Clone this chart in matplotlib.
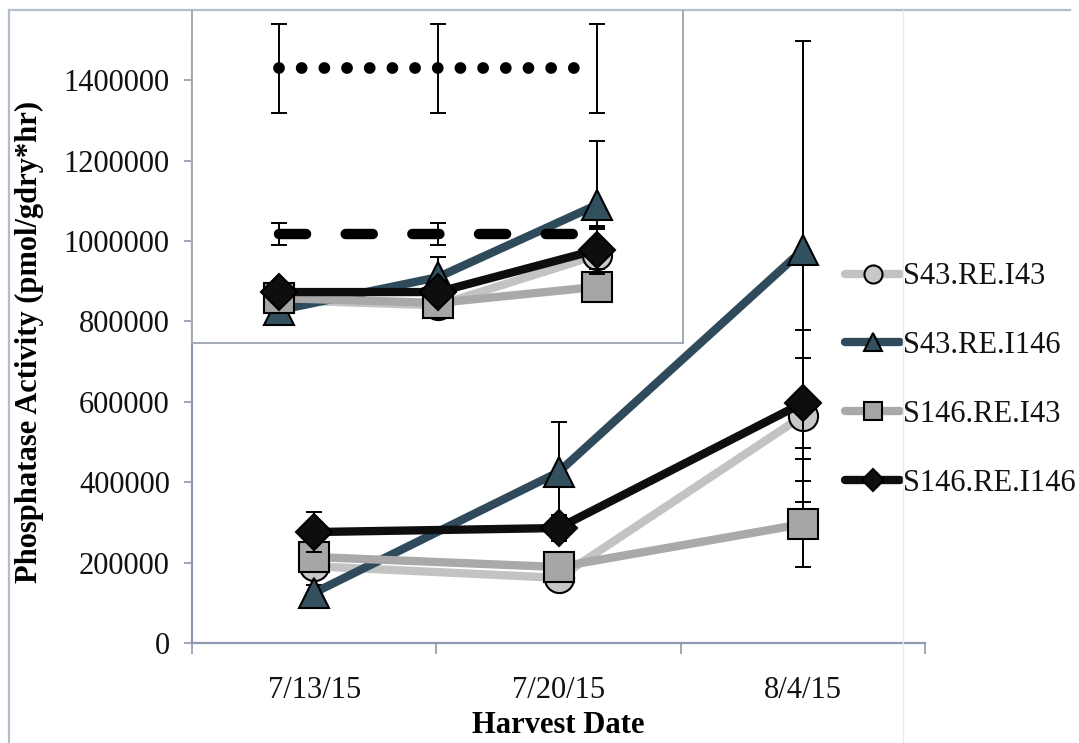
import matplotlib.pyplot as plt
from matplotlib.lines import Line2D

plt.rcParams['font.family'] = ['Liberation Serif', 'DejaVu Serif']

dates = ['7/13/15', '7/20/15', '8/4/15']
series = ['S43.RE.I43', 'S43.RE.I146', 'S146.RE.I43', 'S146.RE.I146']

# main panel: means and error bars per harvest date
main_vals = {
    'S43.RE.I43':   [191000, 162000, 565000],
    'S43.RE.I146':  [125000, 425000, 978000],
    'S146.RE.I43':  [214000, 189000, 296000],
    'S146.RE.I146': [276000, 286000, 597000],
}
main_err = {
    'S43.RE.I43':   [15000, 15000, 214000],
    'S43.RE.I146':  [20000, 125000, 520000],
    'S146.RE.I43':  [20000, 35000, 106000],
    'S146.RE.I146': [50000, 32000, 112000],
}

# small panel in the upper left
inset_vals = {
    'S43.RE.I43':   [853000, 840000, 965000],
    'S43.RE.I146':  [828000, 910000, 1090000],
    'S146.RE.I43':  [858000, 846000, 886000],
    'S146.RE.I146': [873000, 873000, 978000],
}
inset_err = {
    'S43.RE.I43':   [10000, 10000, 70000],
    'S43.RE.I146':  [10000, 50000, 160000],
    'S146.RE.I43':  [10000, 10000, 10000],
    'S146.RE.I146': [10000, 10000, 60000],
}
dotted_vals = [1430000, 1430000, 1430000]
dotted_err = [111000, 111000, 111000]
dashed_vals = [1017000, 1017000, 1017000]
dashed_err = [27000, 27000, 12000]

styles = {
    'S43.RE.I43':   dict(color='#c3c3c3', marker='o', mfc='#c8c8c8', ms=21),
    'S43.RE.I146':  dict(color='#2f4b5b', marker='^', mfc='#33505f', ms=22),
    'S146.RE.I43':  dict(color='#a9a9a9', marker='s', mfc='#a6a6a6', ms=21),
    'S146.RE.I146': dict(color='#0e0e0e', marker='D', mfc='#0e0e0e', ms=18),
}

W, H = 1079, 743
fig = plt.figure(figsize=(W / 100, H / 100), dpi=100)

# outer frame
frame_c = '#b4bccb'
fig.add_artist(Line2D([9 / W, 1070 / W], [1 - 10 / H, 1 - 10 / H], color=frame_c, lw=1.6))
fig.add_artist(Line2D([9 / W, 9 / W], [1 - 10 / H, 0], color=frame_c, lw=1.6))
fig.add_artist(Line2D([903 / W, 903 / W], [1 - 10 / H, 0], color='#e6ebf2', lw=1.0))

ml, mr, mb, mt = 192 / W, 925 / W, 1 - 643 / H, 1 - 40 / H
ax = fig.add_axes([ml, mb, mr - ml, mt - mb])
ymax = 1500000
ax.set_xlim(-0.5, 2.5)
ax.set_ylim(0, ymax)

x = [0, 1, 2]
for i, s in enumerate(series):
    st = styles[s]
    ax.errorbar(x, main_vals[s], yerr=main_err[s], fmt='none', ecolor='black',
                elinewidth=1.4, capsize=5.5, capthick=1.4, zorder=2 + i)
    ax.plot(x, main_vals[s], color=st['color'], lw=6, marker=st['marker'],
            ms=st['ms'], mfc=st['mfc'], mec='black', mew=1.5,
            solid_joinstyle='round', solid_capstyle='round', label=s, zorder=2 + i)

spine_c = '#8e9aae'
for side in ['top', 'right']:
    ax.spines[side].set_visible(False)
for side in ['left', 'bottom']:
    ax.spines[side].set_color(spine_c)
    ax.spines[side].set_linewidth(1.6)

ax.set_yticks(range(0, 1400001, 200000))
ax.set_yticklabels([str(v) for v in range(0, 1400001, 200000)])
ax.tick_params(axis='y', direction='out', length=6, width=1.2, color=spine_c,
               labelsize=22, pad=10, labelcolor='#111111')
ax.set_xticks([-0.5, 0.5, 1.5, 2.5])
ax.set_xticklabels([])
ax.tick_params(axis='x', which='major', direction='out', length=8, width=1.2, color=spine_c)
ax.set_xticks(x, minor=True)
ax.set_xticklabels(dates, minor=True)
ax.tick_params(axis='x', which='minor', length=0, labelsize=22, pad=24, labelcolor='#111111')

ax.set_xlabel('Harvest Date', fontsize=22, fontweight='bold', labelpad=4)
ax.set_ylabel('Phosphatase Activity (pmol/gdry*hr)', fontsize=22, fontweight='bold', labelpad=14)

leg = ax.legend(loc='center left', bbox_to_anchor=(845 / W, 1 - 380 / H),
                bbox_transform=fig.transFigure, frameon=False, fontsize=22,
                handlelength=1.8, handletextpad=0.1, labelspacing=1.3,
                borderpad=0, borderaxespad=0, markerscale=0.62)
for t in leg.get_texts():
    t.set_color('#111111')

# upper-left panel, drawn on the same vertical value scale as the main axes
il, ir, ib, it = 192 / W, 683 / W, 1 - 343 / H, 1 - 10 / H
iax = fig.add_axes([il, ib, ir - il, it - ib])
iax.set_ylim(ymax * (ib - mb) / (mt - mb), ymax * (it - mb) / (mt - mb))
iax.set_xlim(-0.547, 2.541)
iax.set_facecolor('white')
iax.set_xticks([])
iax.set_yticks([])
for sp in iax.spines.values():
    sp.set_color('#a3a9b3')
    sp.set_linewidth(1.4)

for i, s in enumerate(series):
    st = styles[s]
    iax.errorbar(x, inset_vals[s], yerr=inset_err[s], fmt='none', ecolor='black',
                 elinewidth=1.4, capsize=5.5, capthick=1.4, zorder=2 + i)
    iax.plot(x, inset_vals[s], color=st['color'], lw=6, marker=st['marker'],
             ms=st['ms'], mfc=st['mfc'], mec='black', mew=1.5,
             solid_joinstyle='round', solid_capstyle='round', zorder=2 + i)

iax.errorbar(x, dashed_vals, yerr=dashed_err, fmt='none', ecolor='black',
             elinewidth=1.4, capsize=5.5, capthick=1.4, zorder=7)
iax.plot(x, dashed_vals, color='black', lw=7.5, linestyle=(0, (2.6, 3.8)),
         dash_capstyle='round', zorder=7)
iax.errorbar(x, dotted_vals, yerr=dotted_err, fmt='none', ecolor='black',
             elinewidth=1.4, capsize=5.5, capthick=1.4, zorder=7)
iax.plot(x[:2] + [1.93], dotted_vals, color='black', lw=8.5, linestyle=(0, (0.001, 1.92)),
         dash_capstyle='round', zorder=7)

fig.savefig('out.png', dpi=100)
